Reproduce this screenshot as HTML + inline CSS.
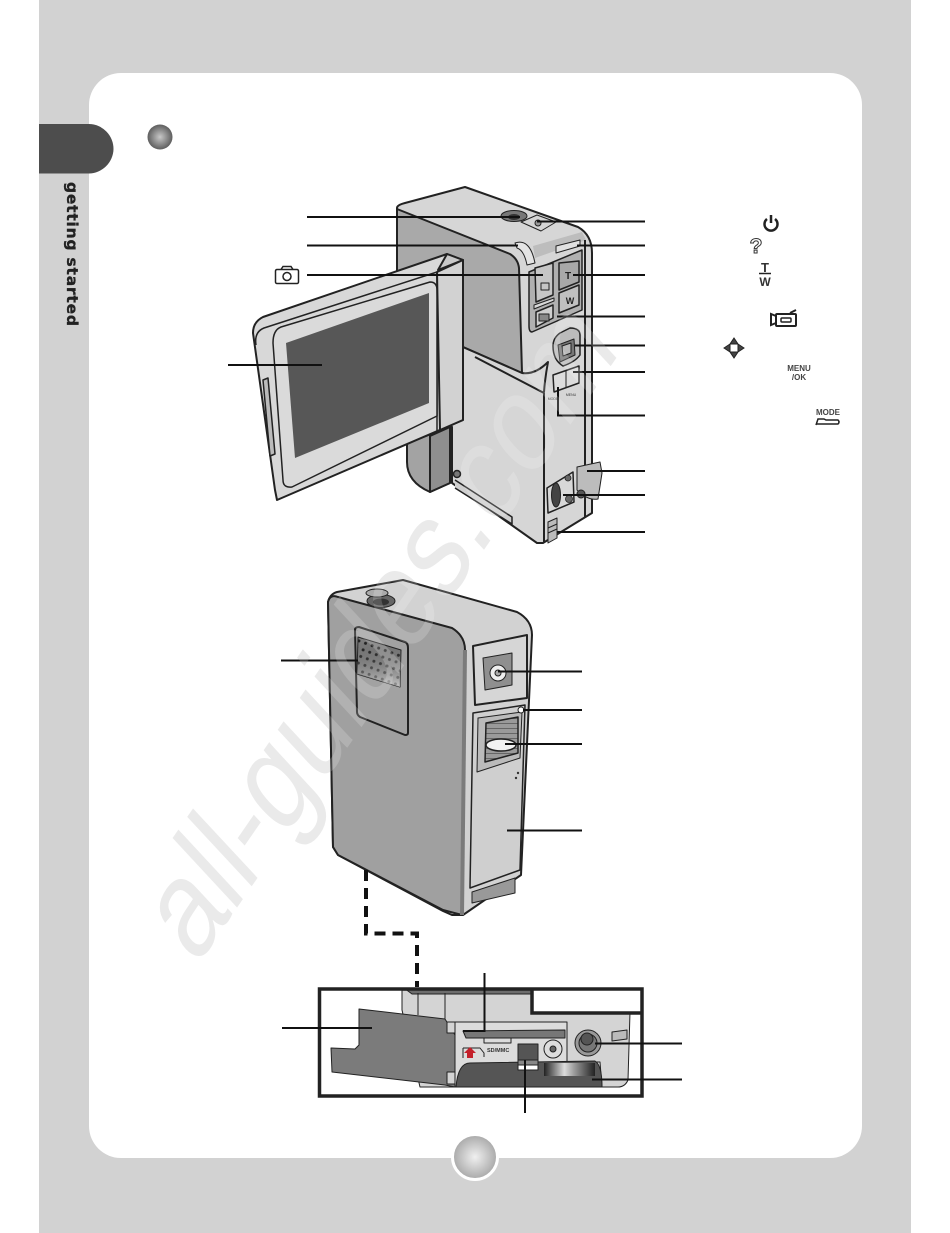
<!DOCTYPE html>
<html><head><meta charset="utf-8"><style>html,body{margin:0;padding:0;background:#fff}svg{display:block}</style></head><body>
<svg width="950" height="1233" viewBox="0 0 950 1233" xmlns="http://www.w3.org/2000/svg" font-family="'Liberation Sans',sans-serif">
<defs>
<radialGradient id="b" cx=".5" cy=".5" r=".5"><stop offset="0" stop-color="#c8c8c8"/><stop offset="1" stop-color="#5e5e5e"/></radialGradient>
<radialGradient id="p" cx=".5" cy=".5" r=".5"><stop offset="0" stop-color="#f0f0f0"/><stop offset="1" stop-color="#a8a8a8"/></radialGradient>
<linearGradient id="roll" x1="0" x2="1" y1="0" y2="0"><stop offset="0" stop-color="#222"/><stop offset=".4" stop-color="#ddd"/><stop offset=".6" stop-color="#999"/><stop offset="1" stop-color="#222"/></linearGradient>
<linearGradient id="fade" x1="0" x2="0" y1="0" y2="1"><stop offset="0" stop-color="#000" stop-opacity="0"/><stop offset="1" stop-color="#fff" stop-opacity=".55"/></linearGradient>
<pattern id="gr" width="7" height="7" patternUnits="userSpaceOnUse" patternTransform="rotate(20)"><rect width="7" height="7" fill="#7f7f7f"/><circle cx="3.500" cy="3.500" r="1.500" fill="#222"/></pattern>
<pattern id="st" width="5" height="5" patternUnits="userSpaceOnUse"><rect width="5" height="5" fill="#9a9a9a"/><rect y="3" width="5" height="1" fill="#666"/></pattern>
</defs>
<rect x="39" width="872" height="1233" fill="#d2d2d2"/>
<rect x="89" y="73" width="773" height="1085" rx="32" fill="#fff"/>
<path d="M39 124H89a25 25 0 0 1 24.500 25a25 25 0 0 1-24.500 24.500H39Z" fill="#4d4d4d"/>
<circle cx="160" cy="137" r="12.500" fill="url(#b)"/>
<text transform="translate(67,182) rotate(90)" font-family="'DejaVu Sans',sans-serif" font-weight="bold" font-size="15.500" textLength="144" fill="#222" stroke="#222" stroke-width=".3">getting started</text>
<text transform="matrix(.568,-.823,.767,.826,196,967)" font-size="116" fill="#e6e6e6">all-guides.com</text>
<circle cx="475" cy="1157" r="22.500" fill="url(#p)" stroke="#fff" stroke-width="3"/>

<!-- camera 1 -->
<g stroke="#222" stroke-width="2" stroke-linejoin="round">
<path d="M397 208Q397 205 405 203L465 187L578 227Q592 235 592 253V513L543 543H537L452 483V427L397 300Z" fill="#d6d6d6"/>
<path d="M397 209L510 254Q518 259 519 268L522 373L463 347L420 300H397Z" fill="#a9a9a9"/>
<path d="M533 246L582 232L586 240L535 258Z" fill="#bdbdbd" stroke="none"/>
<path d="M522 373Q535 375 548 362Q545 378 544 392L463 347" fill="#d6d6d6" stroke="none"/>
<path d="M463 347L522 373Q535 375 548 362Q545 378 544 392M475 357L544 393V543" fill="none"/>
<path d="M585 240V517" fill="none" stroke-width="2"/>
<path d="M407 443L450 427V483L430 492Q407 482 407 462Z" fill="#a3a3a3"/>
<path d="M430 436V492L450 483V427Z" fill="#8f8f8f"/>
<path d="M455 480L512 517V524L455 488" fill="#cfcfcf" stroke-width="1.500"/>
<circle cx="457" cy="474" r="3.500" fill="#777" stroke-width="1.500"/>
<path d="M253 333Q253 322 263 317L447 254L463 260V420L277 500L275 490Z" fill="#d8d8d8"/>
<path d="M447 254L463 260L438 270Z" fill="#c8c8c8"/>
<path d="M437 272V432M437 272L264 328Q254 332 256 345" fill="none" stroke-width="1.500"/>
<path d="M273 343Q273 330 281 327L430 282Q437 282 437 290V416L292 487Q283 488 283 480Z" fill="#dadada" stroke-width="1.500"/>
<path d="M286 343L429 293V403L295 458Z" fill="#575757" stroke="none"/>
<path d="M263 380L268 378L275 454L270 456Z" fill="#bbb" stroke-width="1.500"/>
<path d="M463 260V420L440 430L437 272Z" fill="#d2d2d2"/>

<path d="M521 222L537 215L556 222L541 231Z" fill="#d4d4d4" stroke-width="1"/>
<ellipse cx="514" cy="216" rx="13" ry="5.500" fill="#777" stroke-width="1"/>
<ellipse cx="514" cy="217" rx="6" ry="3" fill="#333" stroke="none"/>
<circle cx="538" cy="223" r="3" fill="#999" stroke-width="1"/>
<path d="M515 243Q530 238 535 263L527 265Q524 250 517 248Z" fill="#e4e4e4" stroke-width="1"/>
<path d="M556 246L580 240V246L556 253Z" fill="#e0e0e0" stroke-width="1"/>
<path d="M529 272L582 250V310L532 332Q529 332 529 326Z" fill="#b0b0b0" stroke-width="1.500"/>
<path d="M535 268L553 263V295L536 302Z" fill="#c6c6c6" stroke-width="1.500"/>
<path d="M559 263L579 261V282L559 290Z" fill="#a8a8a8" stroke-width="1.500"/>
<path d="M559 293L579 285V305L559 313Z" fill="#c0c0c0" stroke-width="1.500"/>
<path d="M534 305L554 298V301L534 309Z" fill="#d8d8d8" stroke-width="1"/>
<path d="M536 312L553 305V318L536 327Z" fill="#cfcfcf" stroke-width="1.500"/>
<rect x="541" y="283" width="8" height="7" fill="none" stroke-width="1"/>
<rect x="539" y="314" width="10" height="7" fill="#888" stroke-width="1"/>
<text x="568" y="279" font-size="10" font-weight="bold" fill="#222" stroke="none" text-anchor="middle">T</text>
<text x="570" y="304" font-size="9" font-weight="bold" fill="#222" stroke="none" text-anchor="middle">W</text>
<path d="M553 346Q553 338 560 333L570 328Q580 328 580 335V355Q575 362 563 366Q553 360 553 346Z" fill="#bbb" stroke-width="1.500"/>
<path d="M558 345L574 339L575 355L560 362Z" fill="#777" stroke-width="1"/>
<path d="M562 346L571 343V353L563 356Z" fill="#bbb" stroke-width="1"/>
<path d="M553 375L579 366V383L554 392Z" fill="#dcdcdc" stroke-width="1.500"/>
<path d="M566 370V388" fill="none" stroke-width="1"/>
<path d="M547 488L573 472L574 502L548 513Z" fill="#d8d8d8" stroke-width="1.500"/>
<ellipse cx="556" cy="495" rx="4.500" ry="12" fill="#444" stroke-width="1"/>
<circle cx="568" cy="478" r="3" fill="#666" stroke-width=".8"/><circle cx="569" cy="499" r="3.500" fill="#666" stroke-width=".8"/>
<path d="M577 467L600 462L602 473L598 499Q588 501 577 490Z" fill="#bcbcbc" stroke-width="1"/>
<circle cx="581" cy="494" r="4" fill="#555" stroke-width="1"/>
<path d="M548 522L557 518V538L548 543Z" fill="#bbb" stroke-width="1"/><path d="M548 528L557 524M548 533L557 529" stroke-width="1" fill="none"/>
<text x="553" y="400" font-size="3.500" fill="#333" stroke="none" text-anchor="middle">MODE</text>
<text x="571" y="396" font-size="3.500" fill="#333" stroke="none" text-anchor="middle">MENU</text>
</g>

<!-- camera 2 -->
<g stroke="#222" stroke-width="2" stroke-linejoin="round">
<path d="M328 602Q330 594 337 592L403 580L517 612Q532 620 532 635L521 875L463 915H452L443 911L338 855L333 847Z" fill="#d2d2d2"/>
<path d="M328 602Q330 594 338 597L452 628Q465 636 465 650L462 915L443 910L338 855L333 847Z" fill="#a0a0a0"/>
<path d="M465 650L462 915" fill="none" stroke="#7b7b7b" stroke-width="4"/>
<ellipse cx="381" cy="601" rx="14" ry="6.500" fill="#666" stroke-width="1"/>
<ellipse cx="381" cy="602" rx="8" ry="3.500" fill="#333" stroke="none"/>
<ellipse cx="377" cy="593" rx="11" ry="4" fill="#aaa" stroke-width="1"/>
<path d="M355 630Q355 627 359 627L405 642Q408 643 408 648V733Q408 735 405 735L360 717Q357 715 357 712Z" fill="#a2a2a2"/>
<path d="M358 637L401 650L400 687L357 674Z" fill="url(#gr)" stroke-width="1"/>
<path d="M358 637L401 650L400 687L357 674Z" fill="url(#fade)" stroke="none"/>
<path d="M473 646L527 635V698L475 705Z" fill="#d6d6d6"/>
<path d="M483 658L512 653V685L485 690Z" fill="#8f8f8f" stroke-width="1"/>
<circle cx="498" cy="673" r="8" fill="#eee" stroke-width="1"/>
<circle cx="498" cy="673" r="3" fill="#aaa" stroke-width="1"/>
<path d="M473 713L525 705L520 870L470 888Z" fill="#cfcfcf" stroke-width="1.500"/>
<path d="M478 718L522 712L520 758L477 772Z" fill="#bbb" stroke-width="1"/>
<path d="M486 723L518 717V753L485 762Z" fill="url(#st)" stroke-width="1.500"/>
<ellipse cx="501" cy="745" rx="15" ry="6" fill="#f2f2f2" stroke-width="1.500"/>
<circle cx="521" cy="710" r="3" fill="#fff" stroke-width="1"/>
<circle cx="518" cy="773" r="1.200" fill="#333" stroke="none"/><circle cx="516" cy="778" r="1.200" fill="#333" stroke="none"/>
<path d="M472 892L515 878V893L472 903Z" fill="#999" stroke-width="1"/>
</g>

<!-- dashed -->
<path d="M366 870V933.500H417V987" fill="none" stroke="#111" stroke-width="4" stroke-dasharray="11 7"/>

<!-- camera 3 -->
<g stroke="#222" stroke-width="1" stroke-linejoin="round">
<path d="M402 990L532 993V1012H630L628 1080Q625 1087 618 1087H420L402 1010Z" fill="#d4d4d4"/>
<path d="M404 988H532V994H412Z" fill="#6d6d6d"/>
<path d="M418 993V1015M445 993V1020" fill="none"/>
<path d="M455 1022H567V1062H600L602 1087H455Z" fill="#dcdcdc"/>
<path d="M463 1031L565 1030V1038H466Z" fill="#777"/>
<path d="M463 1031H485" stroke="#111" stroke-width="2"/>
<path d="M484 1038V1043H511V1038" fill="none"/>
<path d="M456 1087Q458 1063 470 1063L595 1061Q602 1065 602 1087Z" fill="#555"/>
<rect x="544" y="1063" width="51" height="13" fill="url(#roll)" stroke="none"/>
<rect x="518" y="1044" width="20" height="16" fill="#555"/>
<rect x="518" y="1060" width="20" height="5" fill="#888"/>
<rect x="518" y="1065" width="20" height="5" fill="#fff"/>
<circle cx="553" cy="1049" r="9" fill="#ddd"/><circle cx="553" cy="1049" r="3" fill="#666"/>
<circle cx="588" cy="1043" r="13" fill="#999"/><circle cx="588" cy="1043" r="9" fill="#777"/><circle cx="587" cy="1039" r="6" fill="#555"/>
<path d="M612 1032L627 1030V1039L612 1041Z" fill="#bbb"/>
<path d="M463 1048H480L484 1053V1057M463 1048V1058" fill="none" stroke-width="1"/>
<path d="M470 1047L476 1053H473V1058H467V1053H464Z" fill="#c4202a" stroke="none"/>
<text x="487" y="1052" font-size="5.500" font-weight="bold" fill="#333" stroke="none">SD/MMC</text>
<path d="M359 1009L445 1019L455 1035V1087L445 1085L332 1072L331 1048L355 1049L359 1045Z" fill="#7b7b7b"/>
<rect x="447" y="1022" width="8" height="11" fill="#d4d4d4"/><rect x="447" y="1072" width="8" height="12" fill="#d4d4d4"/>
</g>
<path d="M319.500 989H532V1013H642M532 989H642V1096H319.500V989Z" fill="none" stroke="#222" stroke-width="3.500"/>

<!-- leader lines -->
<g stroke="#111" stroke-width="2" fill="none">
<path d="M307 217H520M307 245.500H518M307 275H543M228 365H322"/>
<path d="M537 221.500H645M577 245.500H645M573 275H645M557 316.500H645M575 345.500H645M573 372H645M558 387V415.500H645M587 471H645M563 495H645M557 532H645"/>
<path d="M281 660.500H358M498 671.500H582M523 710H582M505 744H582M507 830.500H582"/>
<path d="M484.500 973V1032M282 1028H372M595 1043.500H682M592 1079.500H682M525 1060V1113"/>
</g>

<!-- icons -->
<g stroke="#222" fill="none">
<rect x="275.500" y="269.500" width="23" height="14" rx="1.500" stroke-width="1.500"/>
<path d="M281 269.500L283 266.500H291L293 269.500" stroke-width="1.500"/>
<circle cx="287" cy="276.500" r="4" stroke-width="1.500"/>
<path d="M767 219A6.500 6.500 0 1 0 775 219M771 215V223" stroke-width="2.500"/>
<text x="756" y="253" font-size="21" font-weight="bold" stroke="#333" stroke-width="1" fill="#fff" text-anchor="middle">?</text>
<text x="765" y="272" font-size="13" font-weight="bold" stroke="none" fill="#333" text-anchor="middle">T</text>
<path d="M759 273.500H771" stroke-width="1.500"/>
<text x="765" y="286" font-size="12" font-weight="bold" stroke="none" fill="#333" text-anchor="middle">W</text>
<rect x="776" y="314" width="20" height="12" rx="1" stroke-width="2"/>
<rect x="781" y="318" width="10" height="4" rx="1" stroke-width="1.500"/>
<path d="M776 316L771 314V325L776 323M790 313L796 310" stroke-width="2"/>
<path d="M734 338L738 344H730ZM734 358L730 352H738ZM724 348L730 344V352ZM744 348L738 344V352Z" fill="#444" stroke-width="1"/>
<text x="799" y="371" font-size="8" font-weight="bold" stroke="none" fill="#444" text-anchor="middle">MENU</text>
<text x="799" y="380" font-size="8" font-weight="bold" stroke="none" fill="#444" text-anchor="middle">/OK</text>
<text x="828" y="415" font-size="8" font-weight="bold" stroke="none" fill="#444" text-anchor="middle">MODE</text>
<path d="M816 425L818 419H824L826 420H838Q840 422 838 424H817" stroke-width="1.500"/>
</g>

<text transform="matrix(.568,-.823,.767,.826,196,967)" font-size="116" fill="#fff" opacity=".18">all-guides.com</text>
</svg>
</body></html>
